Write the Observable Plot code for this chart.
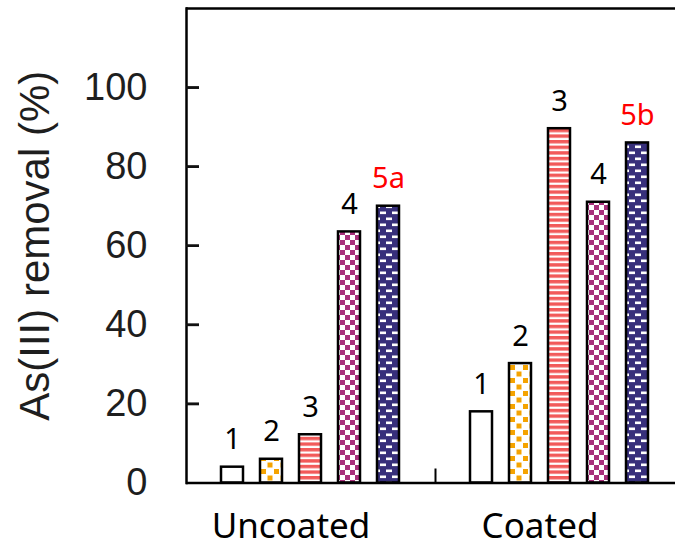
<!DOCTYPE html>
<html>
<head>
<meta charset="utf-8">
<script src="https://cdn.jsdelivr.net/npm/d3@7"></script>
<script src="https://cdn.jsdelivr.net/npm/@observablehq/plot@0.6"></script>
<style>
  html, body { margin: 0; padding: 0; background: white; overflow: hidden; }
  #chart { width: 675px; height: 547px; }
</style>
</head>
<body>
<div id="chart"></div>
<script>
// ---- data ----
const groups = ["Uncoated", "Coated"];
const samples = ["1", "2", "3", "4", "5"];
const uncoatedLabels = ["1", "2", "3", "4", "5a"];
const coatedLabels = ["1", "2", "3", "4", "5b"];
const uncoatedValues = [4, 6, 12.2, 63.5, 70];
const coatedValues = [18, 30.2, 89.6, 71, 86];
const barFills = ["white", "url(#dots)", "url(#stripes)", "url(#checker)", "url(#bricks)"];
const labelColors = ["black", "black", "black", "black", "red"];
const yTicks = [0, 20, 40, 60, 80, 100];
const yTitle = "As(III) removal (%)";

const rows = groups.flatMap((g, gi) => samples.map((s, i) => ({
  group: g,
  sample: s,
  value: gi === 0 ? uncoatedValues[i] : coatedValues[i],
  label: gi === 0 ? uncoatedLabels[i] : coatedLabels[i],
  fill: barFills[i],
  color: labelColors[i]
})));
// inward y ticks (one small mark per tick, first facet only)
const innerTicks = yTicks.filter(d => d > 0);
const tickMarks = innerTicks.flatMap(v => [
  Plot.ruleY([{ g: groups[0], v }], { fx: "g", y: "v", stroke: "#111", strokeWidth: 2.5, insetRight: 236 }),
  Plot.axisY([v], { tickSize: 13, dx: 13, stroke: "#111", strokeWidth: 2.5, tickFormat: () => "", label: null })
]);

const chart = Plot.plot({
  width: 675,
  height: 547,
  marginLeft: 186,
  marginRight: 0,
  marginTop: 8,
  marginBottom: 64.5,
  style: { background: "white" },
  fx: { domain: groups, range: [186, 684], padding: 0, label: null },
  x: { domain: samples, paddingInner: 0.425, paddingOuter: 0.8255, axis: null },
  y: { domain: [0, 120], axis: null },
  color: { type: "identity" },
  marks: [
    Plot.barY(rows, { fx: "group", x: "sample", y: "value", fill: "fill", stroke: "black", strokeWidth: 2.5 }),
    Plot.text(rows, { fx: "group", x: "sample", y: "value", text: "label", fill: "color",
      lineAnchor: "bottom", dy: -18, fontSize: 29, fontFamily: "'Noto Sans', 'Open Sans', sans-serif" }),
    Plot.ruleY([0], { stroke: "black", strokeWidth: 2.5 }),
    Plot.ruleY([120], { stroke: "black", strokeWidth: 2.5 }),
    Plot.frame({ anchor: "left", facetAnchor: "left", stroke: "black", strokeWidth: 2.5 }),
    Plot.frame({ anchor: "left", facetAnchor: "right", stroke: "black", strokeWidth: 2, insetTop: 461 }),
    ...tickMarks,
    Plot.axisY(yTicks, {
      anchor: "left", tickSize: 0, tickPadding: 39,
      fontSize: 38, fontFamily: "'Liberation Sans', Arial, sans-serif", fill: "#1e1e1e",
      label: null
    }),
    Plot.axisY([], {
      anchor: "left", tickSize: 0, dy: -21,
      fontSize: 42, fontFamily: "'Liberation Sans', Arial, sans-serif", fill: "#1e1e1e",
      label: yTitle, labelAnchor: "center", labelOffset: 167, labelArrow: "none"
    }),
    Plot.axisFx({ anchor: "bottom", tickSize: 0, tickPadding: 30, dx: -20,
      fontSize: 35, fontFamily: "'Noto Sans', 'Open Sans', sans-serif", fill: "black", label: null })
  ]
});

// pattern fills for the bars
const ns = "http://www.w3.org/2000/svg";
const svg = chart.tagName.toLowerCase() === "svg" ? chart : chart.querySelector("svg");
const defs = document.createElementNS(ns, "defs");
defs.innerHTML = `
  <pattern id="dots" width="13" height="13" patternUnits="userSpaceOnUse">
    <rect width="13" height="13" fill="white"/>
    <rect x="1" y="1" width="5" height="5" fill="#f5a300"/>
    <rect x="7.5" y="7.5" width="5" height="5" fill="#f5a300"/>
  </pattern>
  <pattern id="stripes" width="6" height="5.6" patternUnits="userSpaceOnUse">
    <rect width="6" height="5.6" fill="white"/>
    <rect width="6" height="3.4" fill="#f25a5a"/>
  </pattern>
  <pattern id="checker" width="10" height="10" patternUnits="userSpaceOnUse">
    <rect width="10" height="10" fill="white"/>
    <rect x="0" y="0" width="5" height="5" fill="#a8307b"/>
    <rect x="5" y="5" width="5" height="5" fill="#a8307b"/>
  </pattern>
  <pattern id="bricks" width="12" height="12" patternUnits="userSpaceOnUse">
    <rect width="12" height="12" fill="#372f7b"/>
    <rect x="2" y="1.5" width="6" height="2.6" fill="white"/>
    <rect x="8" y="7.5" width="4" height="2.6" fill="white"/>
    <rect x="0" y="7.5" width="2" height="2.6" fill="white"/>
  </pattern>`;
svg.insertBefore(defs, svg.firstChild);
document.getElementById("chart").appendChild(chart);
</script>
</body>
</html>
